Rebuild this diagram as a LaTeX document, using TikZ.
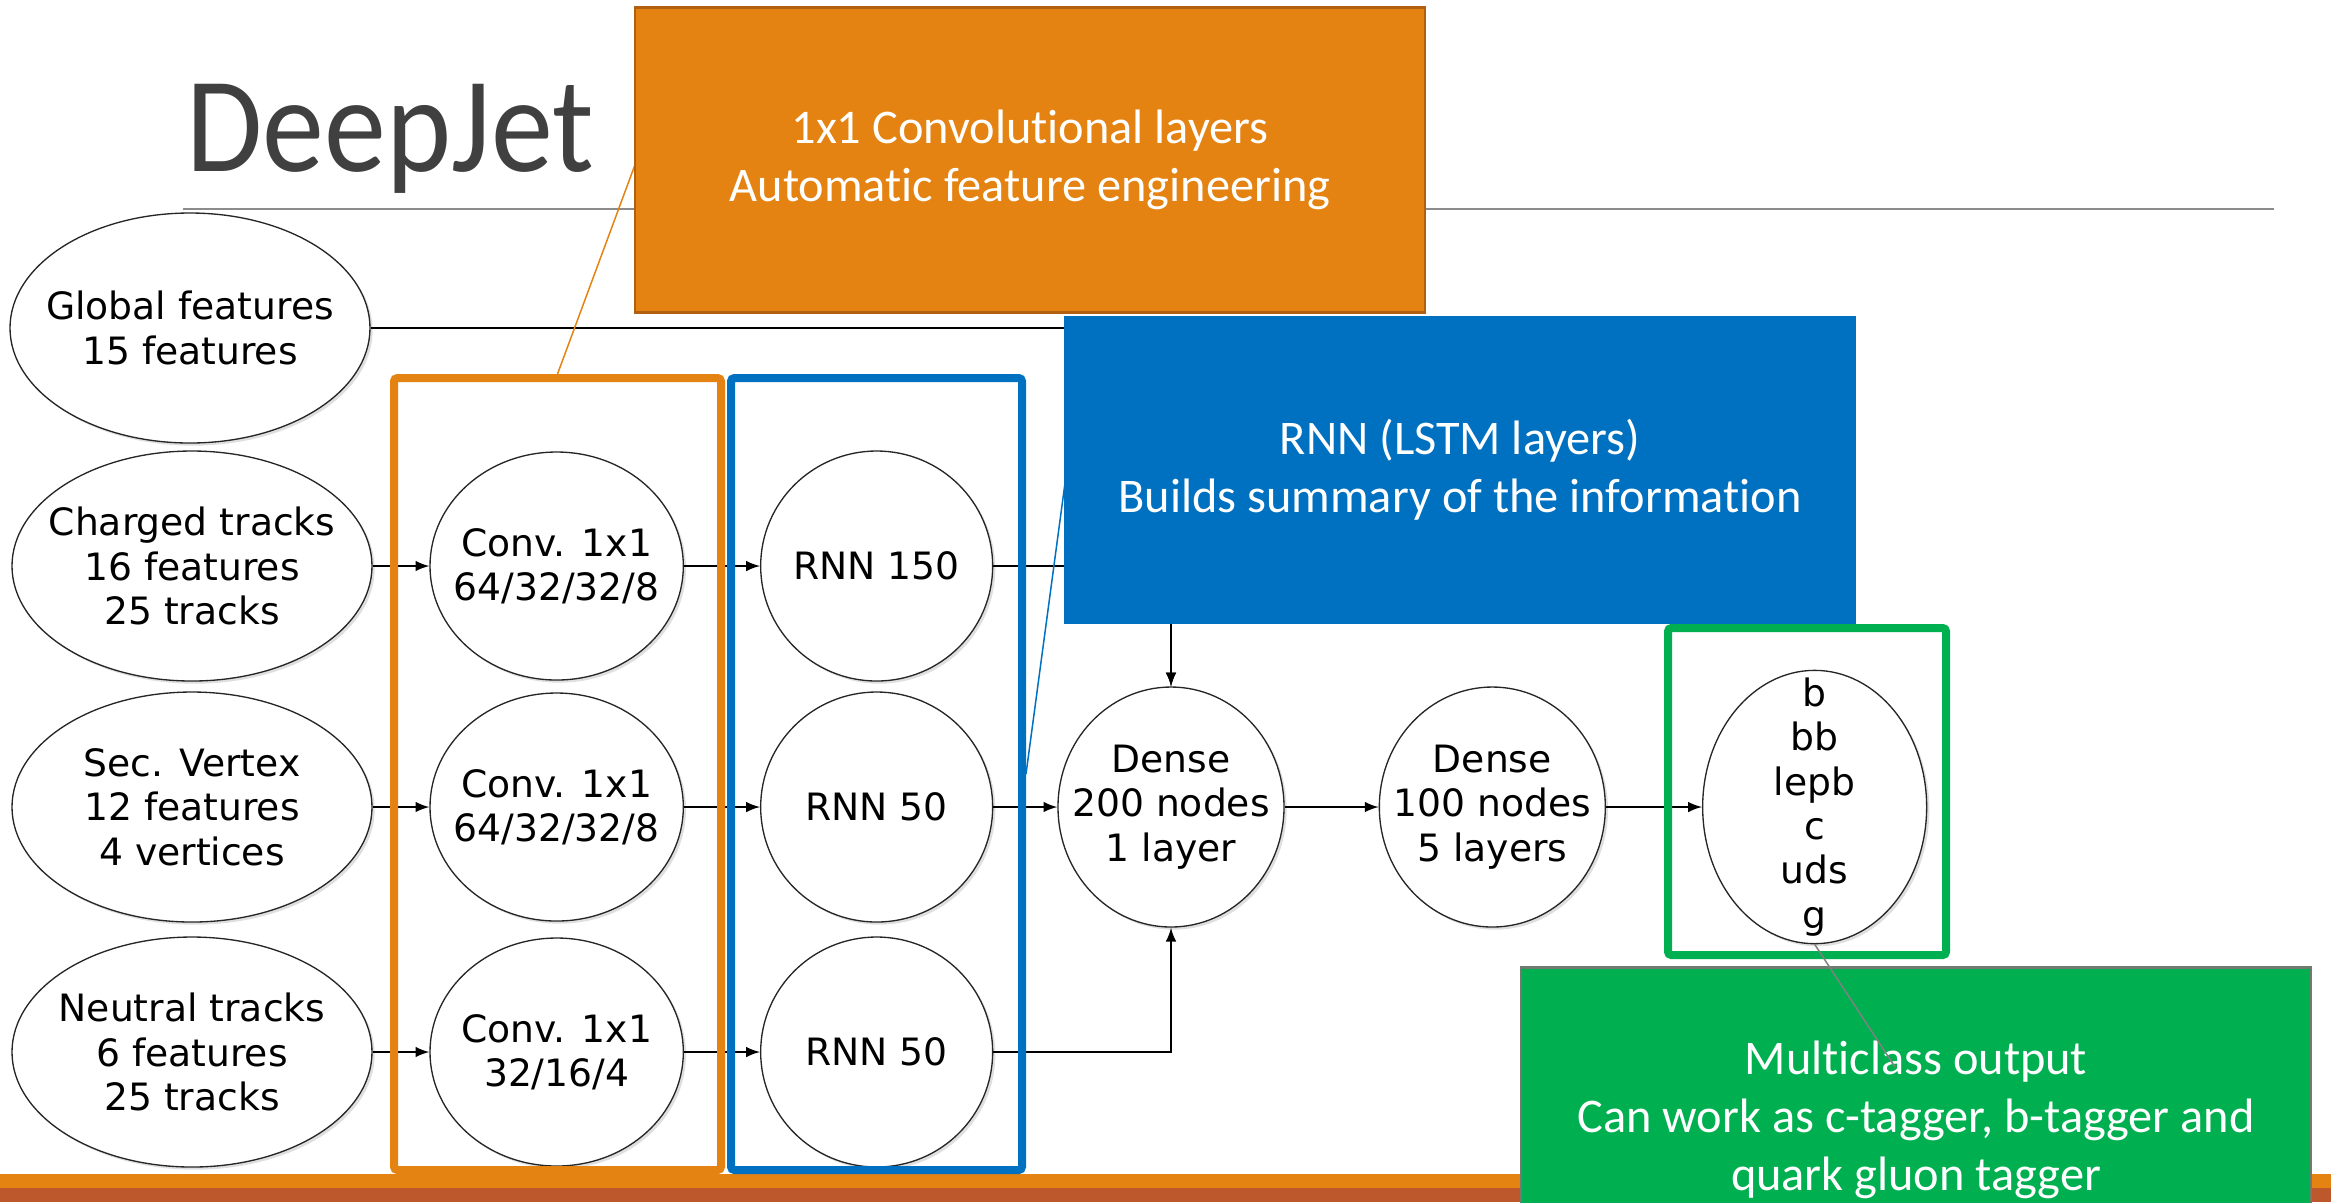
\documentclass[tikz,border=0pt]{standalone}
\usepackage{fontspec}
\setmainfont{DejaVu Sans}
\newfontfamily\slidefont[Ligatures=NoCommon]{Carlito}
\usetikzlibrary{positioning,shapes.geometric,shadows}

\definecolor{djorange}{HTML}{E48312}
\definecolor{djorangeline}{HTML}{B0600E}
\definecolor{djrust}{HTML}{BD582C}
\definecolor{djblue}{HTML}{0070C0}
\definecolor{djgreen}{HTML}{00B050}
\definecolor{djgreenline}{HTML}{6E7C70}
\definecolor{djtitle}{HTML}{404040}

\begin{document}
\begin{tikzpicture}[x=0.3pt, y=-0.3pt,
  bubble/.style={ellipse, draw=black!85, line width=0.4pt, fill=white,
    inner sep=-40pt, align=center, font=\fontsize{11.3}{13.3}\selectfont,
    drop shadow={shadow xshift=0.8pt, shadow yshift=-0.8pt, opacity=0.25}},
  srcnode/.style={bubble, minimum width=108pt, minimum height=69pt},
  convnode/.style={bubble, minimum width=76pt, minimum height=68.4pt},
  rnnnode/.style={bubble, minimum width=69.6pt, minimum height=69pt},
  densenode/.style={bubble, minimum width=67.8pt, minimum height=72pt},
  groupbox/.style={draw=#1, line width=2.4pt, rounded corners=1pt},
  note/.style={rectangle, text=white, align=center, line width=0.8pt,
    minimum width=237pt, minimum height=91.5pt,
    font=\slidefont\fontsize{14.5}{17.5}\selectfont},
  feed/.style={-latex, line width=0.45pt}]
\useasboundingbox (0,0) rectangle (2331,1202);

% slide footer and title
\fill[djorange] (0,1174) rectangle (2331,1188);
\fill[djrust] (0,1188) rectangle (2331,1202);
\node[anchor=base west, inner sep=0pt, text=djtitle,
  font=\slidefont\fontsize{40}{44}\selectfont] (title) at (186,171) {\scalebox{0.93}[1.02]{DeepJet}};
\draw[black!45, line width=0.5pt] (183,209) -- (2274,209);

% inputs
\node[srcnode] (global) at (190,328) {Global features\\15 features};
\node[srcnode] (charged) at (192,566) {Charged tracks\\16 features\\25 tracks};
\node[srcnode] (sv) at (192,807) {Sec. Vertex\\12 features\\4 vertices};
\node[srcnode] (neutral) at (192,1052) {Neutral tracks\\6 features\\25 tracks};

% conv and rnn columns
\node[convnode, right=17pt of charged] (conv1) {Conv. 1x1\\64/32/32/8};
\node[convnode, right=17pt of sv] (conv2) {Conv. 1x1\\64/32/32/8};
\node[convnode, right=17pt of neutral] (conv3) {Conv. 1x1\\32/16/4};
\node[rnnnode, right=22.8pt of conv1] (rnn1) {RNN 150};
\node[rnnnode, right=22.8pt of conv2] (rnn2) {RNN 50};
\node[rnnnode, right=22.8pt of conv3] (rnn3) {RNN 50};

% dense part and output
\node[densenode, right=19.2pt of rnn2] (dense1) {Dense\\200 nodes\\1 layer};
\node[densenode, right=28.2pt of dense1] (dense2) {Dense\\100 nodes\\5 layers};
\node[bubble, minimum width=67.2pt, minimum height=82pt, right=28.8pt of dense2] (out)
  {b\\bb\\lepb\\c\\uds\\g};

\draw[feed] (charged) -- (conv1);
\draw[feed] (sv) -- (conv2);
\draw[feed] (neutral) -- (conv3);
\draw[feed] (conv1) -- (rnn1);
\draw[feed] (conv2) -- (rnn2);
\draw[feed] (conv3) -- (rnn3);
\draw[feed] (global.east) -| (dense1.north);
\draw[feed] (rnn1.east) -| (dense1.north);
\draw[feed] (rnn2) -- (dense1);
\draw[feed] (rnn3.east) -| (dense1.south);
\draw[feed] (dense1) -- (dense2);
\draw[feed] (dense2) -- (out);

% group frames
\node[groupbox=djorange, minimum width=98.1pt, minimum height=237.6pt] (convframe) at (557.5,774) {};
\node[groupbox=djblue, minimum width=87.3pt, minimum height=237.6pt] (rnnframe) at (876.5,774) {};
\node[groupbox=djgreen, minimum width=83.4pt, minimum height=98.1pt] (outframe) at (1807,791.5) {};

% callouts
\draw[djorange, line width=0.45pt] (convframe.north) -- (636,162);
\node[note, fill=djorange, draw=djorangeline] (convnote) at (1030,160)
  {1x1 Convolutional layers\\Automatic feature engineering};
\draw[djblue, line width=0.45pt] (rnnframe.east) -- (1065,483);
\node[note, fill=djblue, draw=djblue] (rnnnote) at (1460,470)
  {RNN (LSTM layers)\\Builds summary of the information};
\begin{scope}
\clip (0,0) rectangle (2331,1202);
\node[note, fill=djgreen, draw=djgreenline] (outnote) at (1916,1120)
  {Multiclass output\\Can work as c-tagger, b-tagger and\\quark gluon tagger};
\end{scope}
\coordinate (tagpin) at (1895,1067);
\draw[black!50, line width=0.45pt] (out.south) -- (tagpin);
\end{tikzpicture}
\end{document}
